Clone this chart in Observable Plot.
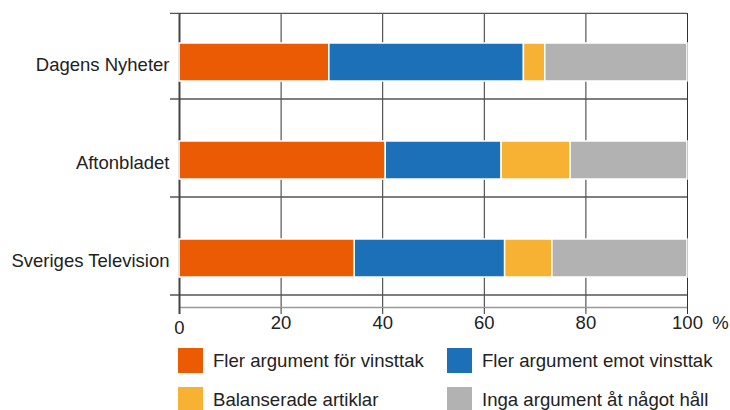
<!DOCTYPE html>
<html>
<head>
<meta charset="utf-8">
<script src="https://cdn.jsdelivr.net/npm/d3@7"></script>
<script src="https://cdn.jsdelivr.net/npm/@observablehq/plot@0.6"></script>
<style>
  html, body { margin: 0; padding: 0; background: #fff; }
  #wrap { position: relative; width: 730px; height: 410px; overflow: hidden; font-family: "Liberation Sans", Arial, sans-serif; color: #222; }
  #legend { position: absolute; left: 0; top: 0; width: 730px; height: 410px; pointer-events: none; }
  .sw { position: absolute; width: 25px; height: 25px; }
  .lt { position: absolute; font-size: 18.6px; line-height: 25px; height: 25px; white-space: nowrap; }
</style>
</head>
<body>
<div id="wrap"><div id="chart"></div><div id="legend"></div></div>
<script>
const categories = ["Dagens Nyheter", "Aftonbladet", "Sveriges Television"];
const seriesNames = ["Fler argument för vinsttak", "Fler argument emot vinsttak", "Balanserade artiklar", "Inga argument åt något håll"];
const forValues = [29.5, 40.6, 34.5];
const emotValues = [38.3, 22.8, 29.6];
const balValues = [4.2, 13.6, 9.3];
const ingaValues = [28.0, 23.0, 26.6];
const seriesColors = ["#ea5b04", "#1b70b8", "#f8b233", "#b2b2b2"];
const xTicks = [0, 20, 40, 60, 80, 100];
const unitLabel = "%";

const seriesValues = [forValues, emotValues, balValues, ingaValues];
const rows = [];
seriesNames.forEach((s, si) => {
  categories.forEach((c, ci) => rows.push({medium: c, serie: s, value: seriesValues[si][ci]}));
});

const chart = Plot.plot({
  width: 730,
  height: 338,
  marginLeft: 179,
  marginRight: 43,
  marginTop: 13,
  marginBottom: 30,
  style: {fontFamily: "'Liberation Sans', Arial, sans-serif", fontSize: "18.5px", color: "#222", background: "white"},
  x: {domain: [0, 100]},
  y: {domain: categories, paddingInner: 0.61, paddingOuter: 0.305},
  color: {domain: seriesNames, range: seriesColors},
  marks: [
    Plot.ruleX(xTicks, {stroke: "#333", strokeWidth: 1}),
    Plot.ruleY([categories[0]], {y: d => d, dy: -49.2, insetLeft: -9, stroke: "#555", strokeWidth: 1.3}),
    Plot.ruleY(categories, {y: d => d, dy: 36.5, insetLeft: -9, stroke: "#555", strokeWidth: 1.3}),
    Plot.ruleY([categories[2]], {y: d => d, dy: 49, stroke: "#999", strokeWidth: 1.3}),
    Plot.ruleX([0], {stroke: "#444", strokeWidth: 2}),
    Plot.barX(rows, Plot.stackX({y: "medium", x: "value", fill: "serie", stroke: "white", strokeWidth: 1.5})),
    Plot.axisX(xTicks.slice(1), {tickSize: 6, tickPadding: 1, stroke: "#333", fontSize: 18.5, label: null}),
    Plot.axisX([xTicks[0]], {tickSize: 6, tickPadding: 6, stroke: "#444", strokeWidth: 2, fontSize: 18.5, label: null}),
    Plot.axisY({tickSize: 0, tickPadding: 10, dy: 2.5, fontSize: 18.5, label: null}),
    Plot.text([unitLabel], {x: () => 100, frameAnchor: "bottom", dx: 33, dy: 20, fontSize: 18.5, fill: "#222"})
  ]
});
document.getElementById("chart").appendChild(chart);

// legend (HTML, below/over the svg area)
const legend = document.getElementById("legend");
const legendPos = [
  {sx: 178, sy: 348, tx: 213},
  {sx: 447, sy: 348, tx: 482},
  {sx: 178, sy: 387, tx: 213},
  {sx: 447, sy: 387, tx: 482}
];
seriesNames.forEach((s, i) => {
  const p = legendPos[i];
  const sw = document.createElement("div");
  sw.className = "sw";
  sw.style.left = p.sx + "px";
  sw.style.top = p.sy + "px";
  sw.style.background = seriesColors[i];
  legend.appendChild(sw);
  const t = document.createElement("div");
  t.className = "lt";
  t.style.left = p.tx + "px";
  t.style.top = p.sy + "px";
  t.textContent = s;
  legend.appendChild(t);
});
</script>
</body>
</html>
